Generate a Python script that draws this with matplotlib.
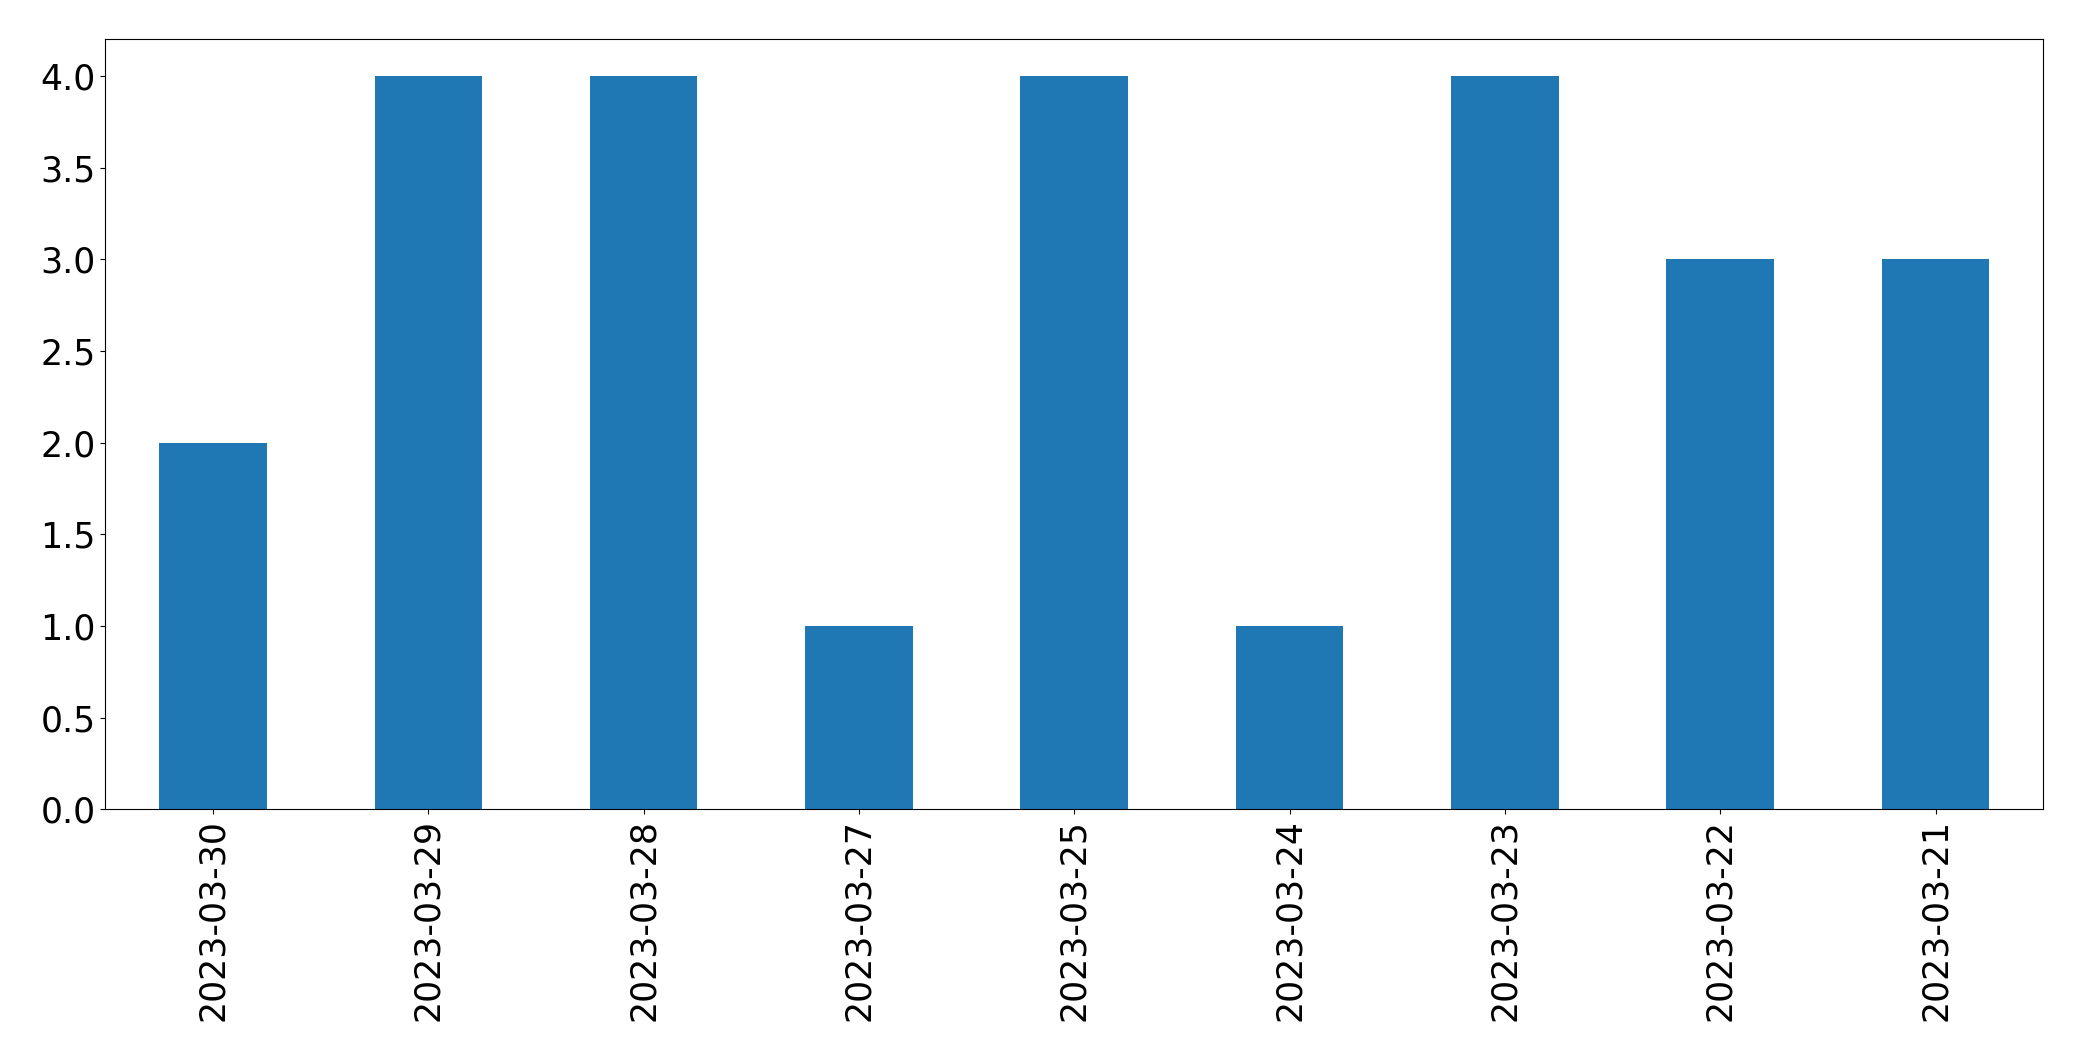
import matplotlib
matplotlib.use('Agg')
import matplotlib.pyplot as plt
import pandas as pd

dates = ['2023-03-30', '2023-03-29', '2023-03-28', '2023-03-27', '2023-03-25',
         '2023-03-24', '2023-03-23', '2023-03-22', '2023-03-21']
counts = [2, 4, 4, 1, 4, 1, 4, 3, 3]

series = pd.Series(counts, index=dates)

fig = plt.figure(figsize=(20.82, 10.61), dpi=100)
ax = fig.add_axes([0.0506, 0.2372, 0.9308, 0.7258])
series.plot(kind='bar', ax=ax, color='#1f77b4')

ax.tick_params(axis='both', labelsize=25)
plt.xticks(rotation=90)

fig.savefig('out.png', dpi=100)
print('Done')
